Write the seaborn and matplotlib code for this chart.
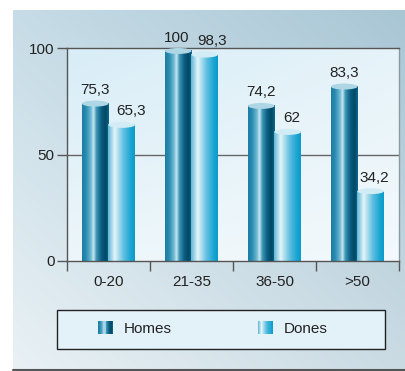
import numpy as np
import pandas as pd
import matplotlib
matplotlib.use("Agg")
import matplotlib.pyplot as plt
import seaborn as sns
from matplotlib.colors import LinearSegmentedColormap, to_rgb
from matplotlib.patches import Rectangle, Ellipse
from matplotlib.legend_handler import HandlerBase

# ---- data ----
categories = ["0-20", "21-35", "36-50", ">50"]
series_names = ["Homes", "Dones"]
homes = [75.3, 100, 74.2, 83.3]
dones = [65.3, 98.3, 62, 34.2]
y_ticks = [0, 50, 100]

df = pd.DataFrame({
    "cat": categories * 2,
    "serie": [series_names[0]] * 4 + [series_names[1]] * 4,
    "val": homes + dones,
})

# label horizontal nudges (points), style only
label_dx = {"Homes": [0, -1.5, 0, 0], "Dones": [7, 5.5, 3, 2.5]}

W, H = 406, 371
sns.set_theme(style="white")
FONT = ["Liberation Sans", "DejaVu Sans"]
plt.rcParams["font.family"] = FONT
FS = 11
fig = plt.figure(figsize=(W / 100, H / 100), dpi=100)

def fx(px):
    return px / W

def fy(py):
    return 1 - py / H

# ---- outer panel gradient ----
bg = fig.add_axes([fx(13), fy(369), fx(406) - fx(13), fy(10) - fy(369)], zorder=-10)
tl, tr, bl, br = [np.array(to_rgb(c)) for c in ("#c6dce6", "#a9c6d5", "#e9f1f5", "#cadbe3")]
u = np.linspace(0, 1, 200)[None, :, None]
v = np.linspace(0, 1, 200)[:, None, None]
grad = (1 - v) * ((1 - u) * tl + u * tr) + v * ((1 - u) * bl + u * br)
bg.imshow(grad, aspect="auto", extent=[0, 1, 0, 1], origin="upper")
bg.set_axis_off()
fig.add_artist(plt.Line2D([fx(13), 1], [fy(369.5), fy(369.5)], color="#555555", lw=1.5,
                          transform=fig.transFigure))

# ---- main axes ----
ax = fig.add_axes([fx(67), fy(261), fx(399) - fx(67), fy(48) - fy(261)])
ax.set_facecolor("none")
ptl, ptr, pbl, pbr = [np.array(to_rgb(c)) for c in ("#d8edf7", "#e6f3f9", "#edf6fa", "#f3f9fc")]
pgrad = (1 - v) * ((1 - u) * ptl + u * ptr) + v * ((1 - u) * pbl + u * pbr)
ax.imshow(pgrad, aspect="auto", extent=[0, 1, 0, 1], origin="upper",
          transform=ax.transAxes, zorder=0)

palette = {"Homes": "#0f6f94", "Dones": "#4fb5da"}
sns.barplot(data=df, x="cat", y="val", hue="serie", order=categories,
            hue_order=series_names, palette=palette, width=0.64, ax=ax,
            legend=False, saturation=1, zorder=1)

cmaps = {
    "Homes": LinearSegmentedColormap.from_list("homes", [
        (0.0, "#1c7ca3"), (0.15, "#2a8cb1"), (0.33, "#6fb8d3"), (0.43, "#c8e8f1"),
        (0.53, "#3f97b8"), (0.72, "#0a5d80"), (0.88, "#004866"), (1.0, "#0e6a8e")]),
    "Dones": LinearSegmentedColormap.from_list("dones", [
        (0.0, "#5fb6d6"), (0.12, "#9dd4e8"), (0.25, "#e6f5fa"), (0.4, "#a6dbec"),
        (0.6, "#5bbde0"), (0.85, "#1aa5d2"), (1.0, "#0a9bc9")]),
}
tops = {"Homes": "#aed6e5", "Dones": "#d2ecf5"}

eh = 2.8  # ellipse height in data units
gradrow = np.linspace(0, 1, 256)[None, :]
for cont, name in zip(ax.containers, series_names):
    for p, dx, val in zip(cont.patches, label_dx[name], cont.datavalues):
        x, w, h = p.get_x(), p.get_width(), p.get_height()
        p.set_facecolor("none")
        p.set_edgecolor("none")
        ax.imshow(gradrow, cmap=cmaps[name], aspect="auto",
                  extent=[x, x + w, 0, h - eh / 2], zorder=2, interpolation="bilinear")
        ax.add_patch(Ellipse((x + w / 2, h - eh / 2), w, eh, facecolor=tops[name],
                             edgecolor="none", zorder=3))
        ax.annotate(f"{val:g}".replace(".", ","), xy=(x + w / 2, h),
                    xytext=(dx, 2.5), textcoords="offset points",
                    ha="center", va="bottom", fontsize=FS, color="#222222",
                    annotation_clip=False)

ax.set_xlim(-0.5, 3.5)
ax.set_ylim(0, 100)
ax.axhline(50, color="#666666", lw=1, zorder=0.5)

for s in ax.spines.values():
    s.set_visible(True)
    s.set_color("#555555")
    s.set_linewidth(1)
ax.spines["right"].set_color("#8a9aa3")

ax.set_yticks(y_ticks)
ax.set_yticklabels([str(t) for t in y_ticks], fontsize=FS, color="#222222")
ax.tick_params(axis="y", which="major", left=True, length=7, width=1, color="#555555", pad=2)
ax.set_xticks(range(len(categories)))
ax.set_xticklabels(categories, fontsize=FS, color="#222222")
ax.set_xticks([-0.5, 0.5, 1.5, 2.5, 3.5], minor=True)
ax.tick_params(axis="x", which="major", bottom=False, length=0, pad=10)
ax.tick_params(axis="x", which="minor", bottom=True, length=7, width=1, color="#555555")
ax.set_xlabel("")
ax.set_ylabel("")
ax.grid(False)

# ---- legend ----
fig.add_artist(Rectangle((fx(57), fy(349)), fx(385) - fx(57), fy(310) - fy(349),
                         transform=fig.transFigure, facecolor="#e3f1f8",
                         edgecolor="#222222", lw=1, zorder=1))


class GradHandler(HandlerBase):
    def __init__(self, cmap, n=14):
        super().__init__()
        self.cmap = cmap
        self.n = n

    def create_artists(self, legend, orig_handle, xdescent, ydescent, width, height,
                       fontsize, trans):
        sw = width / self.n
        return [Rectangle((-xdescent + i * sw, -ydescent), sw * 1.05, height,
                          facecolor=self.cmap((i + 0.5) / self.n), edgecolor="none",
                          transform=trans) for i in range(self.n)]


h1 = Rectangle((0, 0), 1, 1)
h2 = Rectangle((0, 0), 1, 1)
leg = fig.legend([h1, h2], series_names, loc="center left",
                 bbox_to_anchor=(fx(98), fy(328.5)), frameon=False, ncol=2,
                 borderpad=0, borderaxespad=0, handlelength=1.0, handleheight=0.9,
                 handletextpad=0.7, columnspacing=5.6, prop={"size": FS, "family": FONT},
                 handler_map={h1: GradHandler(cmaps["Homes"]), h2: GradHandler(cmaps["Dones"])})
leg.set_zorder(2)
for t in leg.get_texts():
    t.set_color("#222222")

fig.savefig("out.png", dpi=100)
